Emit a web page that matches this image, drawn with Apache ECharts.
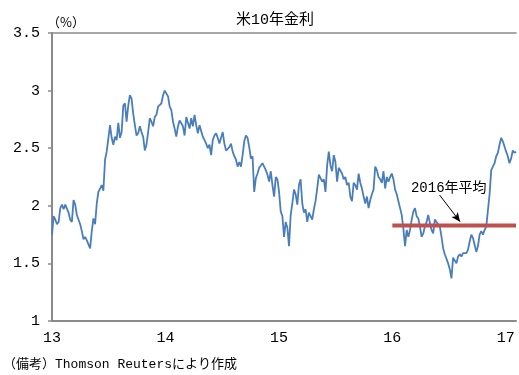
<!DOCTYPE html>
<html>
<head>
<meta charset="utf-8">
<script src="https://cdn.jsdelivr.net/npm/echarts@6/dist/echarts.min.js"></script>
<style>
  html, body { margin: 0; padding: 0; background: #fff; }
  #chart { width: 519px; height: 375px; }
</style>
</head>
<body>
<div id="chart"></div>
<script>
// 米10年金利（%）— 2013年初〜2017年初
const title = "米10年金利";
const unitLabel = "（%）";
const sourceNote = "（備考）Thomson Reutersにより作成";
const avgLabel = "2016年平均";
const xTicks = [13, 14, 15, 16, 17];

// サンプル：13年初から約5.3日おき（年単位）
const sampleStart = 13.0;
const sampleStep = 0.01461;
const yields = [
  1.75, 1.91, 1.88, 1.84, 1.86, 1.98, 2.01, 1.97, 2.01, 2.02,
  1.94, 1.88, 1.86, 2.05, 2.01, 1.92, 1.91, 1.84, 1.78, 1.71,
  1.73, 1.70, 1.69, 1.63, 1.78, 1.89, 1.84, 2.02, 2.12, 2.15,
  2.18, 2.13, 2.40, 2.47, 2.48, 2.70, 2.59, 2.53, 2.60, 2.57,
  2.72, 2.59, 2.64, 2.87, 2.89, 2.73, 2.87, 2.96, 2.93, 2.80,
  2.70, 2.61, 2.63, 2.69, 2.64, 2.60, 2.48, 2.53, 2.64, 2.76,
  2.73, 2.69, 2.77, 2.79, 2.86, 2.85, 2.89, 2.96, 3.00, 2.99,
  2.95, 2.86, 2.83, 2.73, 2.67, 2.60, 2.69, 2.74, 2.74, 2.69,
  2.61, 2.77, 2.76, 2.67, 2.76, 2.69, 2.79, 2.70, 2.63, 2.70,
  2.69, 2.60, 2.59, 2.54, 2.50, 2.53, 2.44, 2.57, 2.61, 2.63,
  2.59, 2.54, 2.53, 2.64, 2.54, 2.48, 2.47, 2.51, 2.54, 2.47,
  2.43, 2.40, 2.34, 2.38, 2.34, 2.44, 2.56,
  2.61, 2.59, 2.51, 2.41, 2.43, 2.12, 2.24, 2.28, 2.33, 2.35,
  2.37, 2.34, 2.31, 2.27, 2.21, 2.30, 2.18, 2.08, 2.25, 2.23,
  2.12, 1.95, 1.91, 1.73, 1.86, 1.81, 1.65, 1.92, 2.02, 2.14,
  2.10, 2.01, 2.18, 2.23, 2.02, 1.94, 1.97, 1.86, 1.94, 1.91,
  1.88, 1.97, 2.04, 2.15, 2.27, 2.28, 2.21, 2.23, 2.12, 2.35,
  2.47, 2.35, 2.30, 2.44, 2.38, 2.21, 2.33,
  2.34, 2.28, 2.23, 2.25, 2.18, 2.20, 2.08, 2.04, 2.20, 2.18,
  2.14, 2.28, 2.20, 2.15, 2.08, 2.02, 2.08, 1.98, 2.05, 2.10,
  2.14, 2.34, 2.31, 2.25, 2.23, 2.20, 2.30, 2.15, 2.25, 2.21,
  2.25, 2.28, 2.23, 2.14, 2.10, 2.04, 1.98, 1.92, 1.80, 1.65,
  1.79, 1.73, 1.79, 1.88, 1.95, 1.98, 1.91, 1.89, 1.82, 1.73,
  1.76, 1.82, 1.86, 1.92, 1.85, 1.79, 1.76,
  1.88, 1.86, 1.84, 1.82, 1.73, 1.63, 1.58, 1.59, 1.50, 1.45,
  1.37, 1.55, 1.56, 1.50, 1.56, 1.58, 1.56, 1.59, 1.60, 1.59,
  1.62, 1.69, 1.75, 1.72, 1.66, 1.60, 1.65, 1.75, 1.78, 1.75,
  1.79, 1.82, 1.82, 2.10, 2.31, 2.34, 2.37, 2.43, 2.46, 2.53,
  2.59, 2.56, 2.56, 2.47, 2.43, 2.37, 2.41, 2.48, 2.46, 2.47
];

// 2016年平均
const avg2016 = 1.83;
const avgFrom = 16.0;
const avgTo = 17.09;
const arrowFrom = [16.416, 2.094];
const arrowTo = [16.597, 1.862];
const labelAt = [16.497, 2.155];

const FONT = "'Liberation Mono', 'Noto Sans CJK JP', monospace";
const CJK_FONT = "'Noto Sans CJK JP', sans-serif";
const AXIS_GRAY = "#8a8a8a";

const chart = echarts.init(document.getElementById("chart"), null, { renderer: "canvas" });

const option = {
  animation: false,
  backgroundColor: "#fff",
  title: {
    text: title,
    left: 231,
    top: 8,
    textStyle: { fontSize: 15, fontWeight: "normal", color: "#000", fontFamily: FONT },
  },
  grid: { left: 52, right: 0, top: 33, bottom: 54, containLabel: false },
  xAxis: [
    {
      type: "value",
      min: 13,
      max: 17.09,
      interval: 1,
      axisLine: { show: true, onZero: false, lineStyle: { color: AXIS_GRAY, width: 2 } },
      axisTick: { show: false },
      splitLine: { show: false },
      axisLabel: {
        color: "#000", fontSize: 15, fontFamily: FONT, margin: 10,
        formatter: v => (xTicks.includes(v) ? String(v) : ""),
      },
    },
    {
      // 上端の枠線
      type: "value",
      position: "top",
      min: 13,
      max: 17.09,
      axisLine: { show: true, onZero: false, lineStyle: { color: AXIS_GRAY, width: 1.5 } },
      axisTick: { show: false },
      axisLabel: { show: false },
      splitLine: { show: false },
    },
  ],
  yAxis: {
    type: "value",
    min: 1,
    max: 3.5,
    interval: 0.5,
    axisLine: { show: true, lineStyle: { color: AXIS_GRAY, width: 2 } },
    axisTick: { show: true, length: 4, lineStyle: { color: AXIS_GRAY, width: 1.5 } },
    splitLine: { show: false },
    axisLabel: { color: "#000", fontSize: 15, fontFamily: FONT, margin: 12 },
  },
  graphic: [
    {
      type: "text", left: 47, top: 16,
      style: { text: unitLabel, fontSize: 13, fill: "#000", fontFamily: CJK_FONT },
    },
    {
      type: "text", left: 3, top: 358,
      style: { text: sourceNote, fontSize: 13, fill: "#000", fontFamily: FONT },
    },
  ],
  series: [
    {
      name: "米10年金利",
      type: "line",
      symbol: "none",
      z: 2,
      lineStyle: { color: "#4a7ebb", width: 1.8 },
      data: yields.map((v, i) => [sampleStart + i * sampleStep, v]),
    },
    {
      name: avgLabel,
      type: "line",
      symbol: "none",
      z: 3,
      lineStyle: { color: "#c0504d", width: 4 },
      data: [[avgFrom, avg2016], [avgTo, avg2016]],
      markLine: {
        silent: true,
        symbol: ["none", "arrow"],
        symbolSize: [6, 9],
        label: { show: false },
        lineStyle: { color: "#000", width: 1, type: "solid" },
        data: [[{ coord: arrowFrom }, { coord: arrowTo }]],
      },
      markPoint: {
        silent: true,
        symbol: "circle",
        symbolSize: 0,
        label: {
          show: true,
          position: "inside",
          formatter: avgLabel,
          color: "#000",
          fontSize: 14,
          fontFamily: FONT,
        },
        data: [{ coord: labelAt }],
      },
    },
  ],
};

chart.setOption(option);
</script>
</body>
</html>
